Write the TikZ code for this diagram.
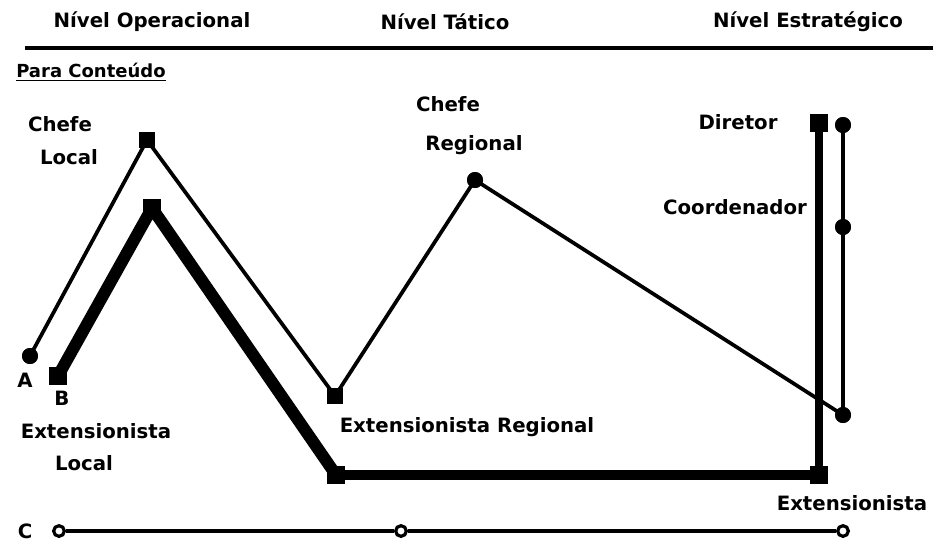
\documentclass[tikz,border=0pt]{standalone}
\usepackage{fontspec}
\setmainfont{DejaVu Sans}
\begin{document}
\begin{tikzpicture}[x=0.75pt,y=-0.75pt,
  lbl/.style={font=\bfseries\fontsize{14.8}{16}\selectfont, inner sep=0pt, text=black},
  sq/.style={fill=black, draw=none, minimum size=12pt, inner sep=0pt, shape=rectangle},
  bsq/.style={fill=black, draw=none, minimum size=13.5pt, inner sep=0pt, shape=rectangle},
  dot/.style={fill=black, draw=none, circle, minimum size=12pt, inner sep=0pt},
  odot/.style={fill=white, draw=black, line width=2.4pt, circle, minimum size=8pt, inner sep=0pt},
  thinline/.style={line width=2.8pt, line join=round},
  thickline/.style={line width=9pt, line join=round},
  medline/.style={line width=7pt},
  vline/.style={line width=5.5pt}]
\useasboundingbox (0,0) rectangle (933,544);

% headings
\node[lbl] (h1) at (152,22) {Nível Operacional};
\node[lbl] (h2) at (445,22) {Nível Tático};
\node[lbl] (h3) at (808,22) {Nível Estratégico};
\coordinate (l1) at (25,48);
\coordinate (l2) at (933,48);
\draw[line width=2.4pt] (l1) -- (l2);
\node[lbl, anchor=west, font=\bfseries\fontsize{13.5}{15}\selectfont] (para) at (16,72) {\underline{Para Conteúdo}};

% markers path A
\node[dot] (A) at (30,356) {};
\node[sq] (CL) at (147,140) {};
\node[sq] (ER) at (335,396) {};
\node[dot] (CR) at (475,180) {};
\node[dot] (R1) at (843,125) {};
\node[dot] (R2) at (843,227) {};
\node[dot] (R3) at (843,415) {};

% markers path B
\node[bsq] (B) at (58,376) {};
\node[bsq] (BT) at (152,208) {};
\node[bsq] (BC) at (336,475) {};
\node[bsq] (BE) at (819,475) {};
\node[bsq] (BD) at (819,123) {};

% markers path C
\node[odot] (C1) at (59,531) {};
\node[odot] (C2) at (401,531) {};
\node[odot] (C3) at (843,531) {};

% connectors
\draw[thickline] (B.center) -- (BT.center) -- (BC.center);
\draw[medline] (BC.center) -- (BE.center);
\draw[vline] (BE.center) -- (BD.center);
\draw[thinline] (A.center) -- (CL.center) -- (ER.center) -- (CR.center) -- (R3.center);
\draw[thinline] (R1.center) -- (R2.center) -- (R3.center);
\draw[line width=2.6pt] (C1) -- (C2);
\draw[line width=2.6pt] (C2) -- (C3);

% redraw markers on top
\node[dot] at (A) {};
\node[sq] at (CL) {};
\node[sq] at (ER) {};
\node[dot] at (CR) {};
\node[dot] at (R1) {};
\node[dot] at (R2) {};
\node[dot] at (R3) {};
\node[bsq] at (B) {};
\node[bsq] at (BT) {};
\node[bsq] at (BC) {};
\node[bsq] at (BE) {};
\node[bsq] at (BD) {};

% labels
\node[lbl] (t1) at (60,124) {Chefe};
\node[lbl] (t2) at (69,157) {Local};
\node[lbl] (tA) at (25,380) {A};
\node[lbl] (tB) at (62,398) {B};
\node[lbl] (t3) at (96,431) {Extensionista};
\node[lbl] (t4) at (84,463) {Local};
\node[lbl] (t5) at (448,104) {Chefe};
\node[lbl] (t6) at (474,145) {Regional};
\node[lbl] (t7) at (467,427) {Extensionista Regional};
\node[lbl] (t8) at (738,122) {Diretor};
\node[lbl] (t9) at (735,207) {Coordenador};
\node[lbl] (t10) at (852,503) {Extensionista};
\node[lbl] (tC) at (25,531) {C};
\end{tikzpicture}
\end{document}
